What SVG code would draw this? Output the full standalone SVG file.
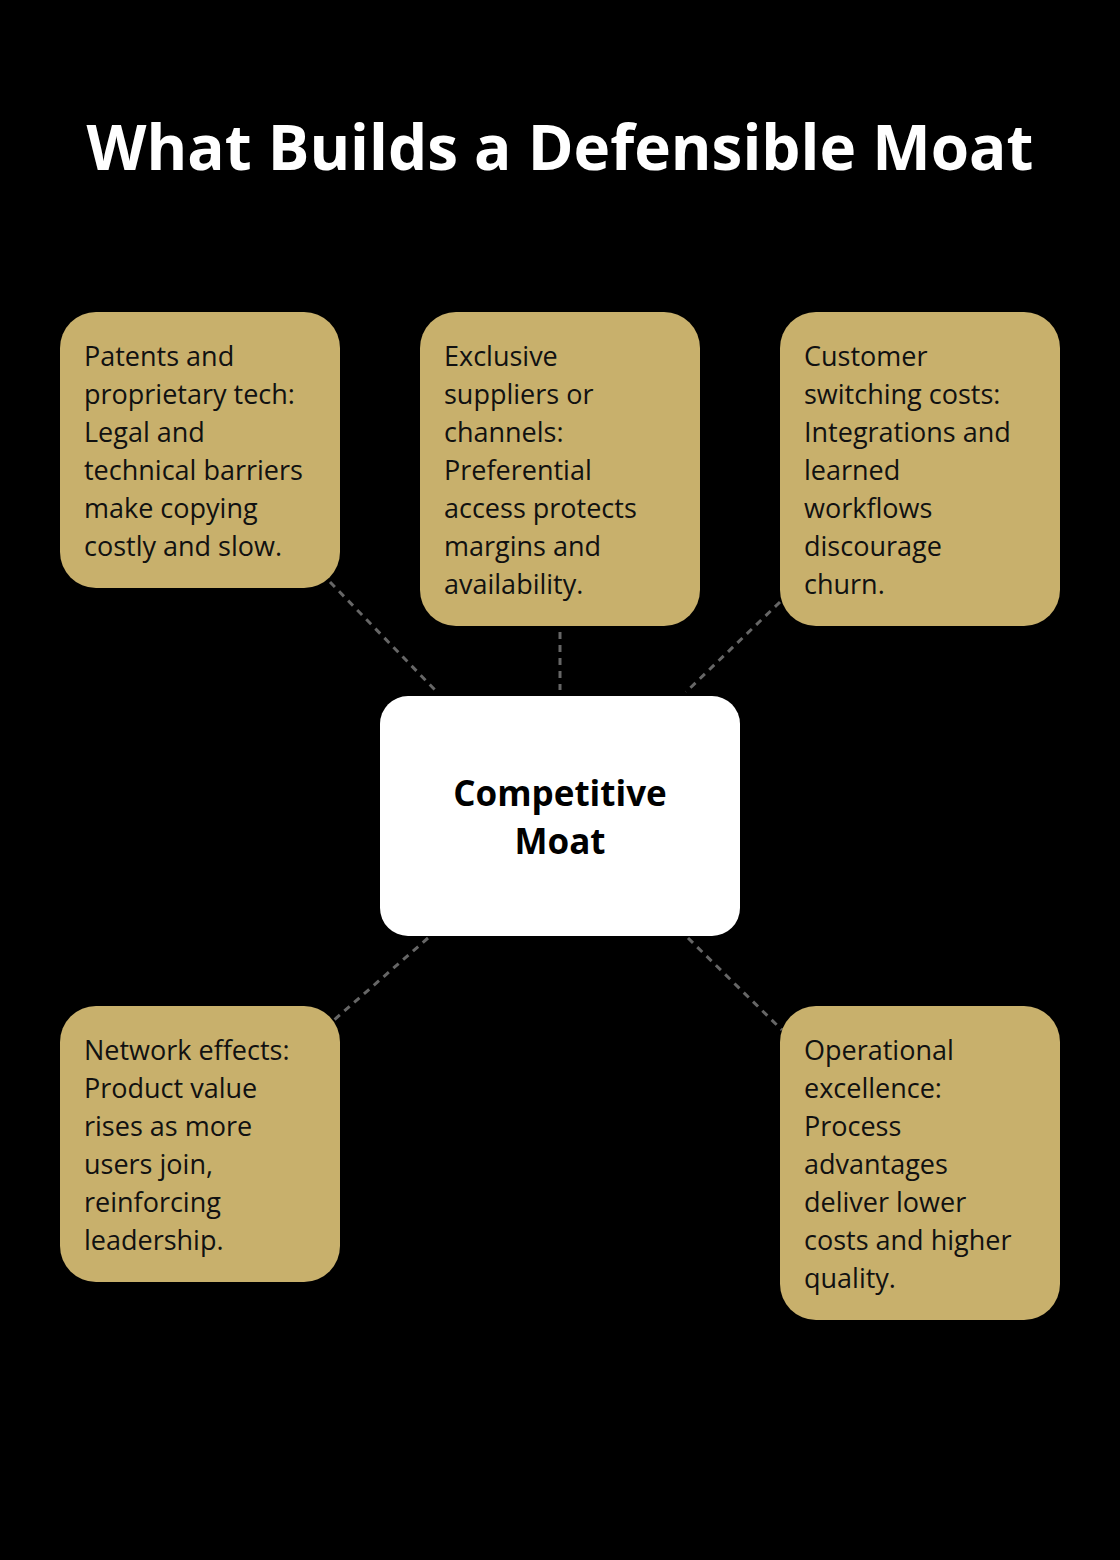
<svg xmlns="http://www.w3.org/2000/svg" width="1120" height="1560" viewBox="0 0 1120 1560">
<style>
.n{fill:#C8B06C}
.t{font-family:"Open Sans","Noto Sans",sans-serif;font-size:27px;fill:#111}
.c{stroke:#666;stroke-width:3;stroke-dasharray:7 6;fill:none}
</style>
<rect width="1120" height="1560" fill="#000"/>
<text x="560" y="170" text-anchor="middle" font-family="'Open Sans','Noto Sans',sans-serif" font-weight="bold" font-size="62" fill="#fff">What Builds a Defensible Moat</text>
<g id="connectors">
<line class="c" x1="330" y1="582" x2="437" y2="692"/>
<line class="c" x1="560" y1="632" x2="560" y2="690"/>
<line class="c" x1="780" y1="602" x2="686" y2="692"/>
<line class="c" x1="428" y1="938" x2="334" y2="1020"/>
<line class="c" x1="688" y1="938" x2="782" y2="1030"/>
</g>
<g id="center">
<rect x="380" y="696" width="360" height="240" rx="28" fill="#fff"/>
<text x="560" y="806" text-anchor="middle" font-family="'Open Sans','Noto Sans',sans-serif" font-weight="bold" font-size="35" fill="#000">Competitive</text>
<text x="560" y="854" text-anchor="middle" font-family="'Open Sans','Noto Sans',sans-serif" font-weight="bold" font-size="35" fill="#000">Moat</text>
</g>
<g id="n1">
<rect class="n" x="60" y="312" width="280" height="276" rx="36"/>
<text class="t" x="84" y="366">Patents and</text><text class="t" x="84" y="404">proprietary tech:</text><text class="t" x="84" y="442">Legal and</text><text class="t" x="84" y="480">technical barriers</text><text class="t" x="84" y="518">make copying</text><text class="t" x="84" y="556">costly and slow.</text>
</g>
<g id="n2">
<rect class="n" x="420" y="312" width="280" height="314" rx="36"/>
<text class="t" x="444" y="366">Exclusive</text><text class="t" x="444" y="404">suppliers or</text><text class="t" x="444" y="442">channels:</text><text class="t" x="444" y="480">Preferential</text><text class="t" x="444" y="518">access protects</text><text class="t" x="444" y="556">margins and</text><text class="t" x="444" y="594">availability.</text>
</g>
<g id="n3">
<rect class="n" x="780" y="312" width="280" height="314" rx="36"/>
<text class="t" x="804" y="366">Customer</text><text class="t" x="804" y="404">switching costs:</text><text class="t" x="804" y="442">Integrations and</text><text class="t" x="804" y="480">learned</text><text class="t" x="804" y="518">workflows</text><text class="t" x="804" y="556">discourage</text><text class="t" x="804" y="594">churn.</text>
</g>
<g id="n4">
<rect class="n" x="60" y="1006" width="280" height="276" rx="36"/>
<text class="t" x="84" y="1060">Network effects:</text><text class="t" x="84" y="1098">Product value</text><text class="t" x="84" y="1136">rises as more</text><text class="t" x="84" y="1174">users join,</text><text class="t" x="84" y="1212">reinforcing</text><text class="t" x="84" y="1250">leadership.</text>
</g>
<g id="n5">
<rect class="n" x="780" y="1006" width="280" height="314" rx="36"/>
<text class="t" x="804" y="1060">Operational</text><text class="t" x="804" y="1098">excellence:</text><text class="t" x="804" y="1136">Process</text><text class="t" x="804" y="1174">advantages</text><text class="t" x="804" y="1212">deliver lower</text><text class="t" x="804" y="1250">costs and higher</text><text class="t" x="804" y="1288">quality.</text>
</g>
</svg>
